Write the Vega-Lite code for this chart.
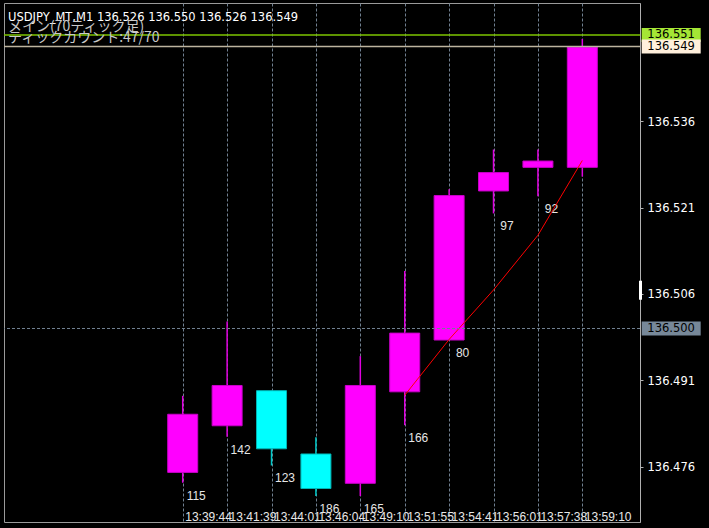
{
  "$schema": "https://vega.github.io/schema/vega-lite/v6.json",
  "width": 636,
  "height": 519,
  "autosize": {"type": "none"},
  "padding": {"left": 4, "top": 3, "right": 69, "bottom": 6},
  "background": "#000000",
  "config": {"view": {"stroke": "#9a9a9a", "strokeWidth": 1}},
  "title": {
    "text": "USDJPY_MT,M1  136.526 136.550 136.526 136.549",
    "subtitle": ["メイン(70ティック足)", "ティックカウント:47/70"],
    "anchor": "start",
    "frame": "group",
    "orient": "top",
    "offset": -42,
    "font": "DejaVu Sans",
    "fontSize": 11.5,
    "fontWeight": "normal",
    "color": "#ffffff",
    "subtitleFont": "Noto Sans CJK JP",
    "subtitleFontSize": 14,
    "subtitleColor": "#c8c8c8",
    "subtitleLineHeight": 11,
    "subtitlePadding": -3,
    "dx": 4
  },
  "resolve": {"scale": {"stroke": "independent", "fill": "independent"}},
  "datasets": {
    "bars": [
      {"i": 0, "time": "13:39:44", "open": 136.4750, "high": 136.4883, "low": 136.4732, "close": 136.4851, "dir": "up", "secs": "115"},
      {"i": 1, "time": "13:41:39", "open": 136.4831, "high": 136.5012, "low": 136.4812, "close": 136.4901, "dir": "up", "secs": "142"},
      {"i": 2, "time": "13:44:01", "open": 136.4892, "high": 136.4892, "low": 136.4762, "close": 136.4791, "dir": "down", "secs": "123"},
      {"i": 3, "time": "13:46:04", "open": 136.4782, "high": 136.4811, "low": 136.4709, "close": 136.4722, "dir": "down", "secs": "186"},
      {"i": 4, "time": "13:49:10", "open": 136.4731, "high": 136.4952, "low": 136.4709, "close": 136.4901, "dir": "up", "secs": "165"},
      {"i": 5, "time": "13:51:55", "open": 136.4890, "high": 136.5100, "low": 136.4832, "close": 136.4992, "dir": "up", "secs": "166", "ma": 136.4884},
      {"i": 6, "time": "13:54:41", "open": 136.4980, "high": 136.5242, "low": 136.4980, "close": 136.5231, "dir": "up", "secs": "80", "ma": 136.4981},
      {"i": 7, "time": "13:56:01", "open": 136.5239, "high": 136.5311, "low": 136.5200, "close": 136.5271, "dir": "up", "secs": "97", "ma": 136.5067},
      {"i": 8, "time": "13:57:38", "open": 136.5280, "high": 136.5311, "low": 136.5230, "close": 136.5291, "dir": "up", "secs": "92", "ma": 136.5162},
      {"i": 9, "time": "13:59:10", "open": 136.5280, "high": 136.5503, "low": 136.5264, "close": 136.5489, "dir": "up", "ma": 136.5292}
    ],
    "levels": [
      {"price": 136.500, "level": "ref"},
      {"price": 136.551, "level": "high"},
      {"price": 136.549, "level": "last"}
    ],
    "marker": [
      {"lo": 136.5050, "hi": 136.5083}
    ]
  },
  "layer": [
    {
      "data": {"name": "bars"},
      "mark": {"type": "rule", "strokeWidth": 1.5},
      "encoding": {
        "x": {
          "field": "i", "type": "quantitative",
          "scale": {"domain": [-4.025, 10.299], "nice": false, "zero": false, "padding": 0},
          "axis": {
            "title": null,
            "values": [0, 1, 2, 3, 4, 5, 6, 7, 8, 9],
            "labelExpr": "datum.value == 0 ? '13:39:44' : datum.value == 1 ? '13:41:39' : datum.value == 2 ? '13:44:01' : datum.value == 3 ? '13:46:04' : datum.value == 4 ? '13:49:10' : datum.value == 5 ? '13:51:55' : datum.value == 6 ? '13:54:41' : datum.value == 7 ? '13:56:01' : datum.value == 8 ? '13:57:38' : '13:59:10'",
            "labelAlign": "left",
            "labelBaseline": "alphabetic",
            "labelPadding": -2,
            "labelOffset": 2,
            "ticks": false,
            "domain": false,
            "grid": true,
            "gridColor": "#708090",
            "gridDash": [3, 2],
            "gridWidth": 1,
            "labelOverlap": false,
            "labelFlush": false,
            "labelFont": "Liberation Sans",
            "labelFontSize": 12,
            "labelColor": "#e8e8e8"
          }
        },
        "y": {
          "field": "low", "type": "quantitative",
          "scale": {"domain": [136.46638, 136.55656], "nice": false, "zero": false, "padding": 0},
          "axis": {
            "orient": "right",
            "title": null,
            "values": [136.476, 136.491, 136.506, 136.521, 136.536],
            "format": ".3f",
            "labelFont": "DejaVu Sans",
            "labelFontSize": 11.5,
            "labelColor": "#ffffff",
            "labelPadding": 4,
            "labelOffset": 1,
            "tickSize": 3,
            "tickColor": "#b0b0b0",
            "domainColor": "#b0b0b0",
            "grid": false
          }
        },
        "y2": {"field": "high"},
        "stroke": {"field": "dir", "type": "nominal", "scale": {"domain": ["up", "down"], "range": ["#e000e0", "#00c8c8"]}, "legend": null}
      }
    },
    {
      "data": {"name": "bars"},
      "mark": {"type": "bar", "width": 30, "orient": "vertical", "strokeWidth": 1},
      "encoding": {
        "x": {"field": "i", "type": "quantitative"},
        "y": {"field": "open", "type": "quantitative"},
        "y2": {"field": "close"},
        "fill": {"field": "dir", "type": "nominal", "scale": {"domain": ["up", "down"], "range": ["#ff00ff", "#00ffff"]}, "legend": null},
        "stroke": {"field": "dir", "type": "nominal", "scale": {"domain": ["up", "down"], "range": ["#c800c8", "#00b4b4"]}, "legend": null}
      }
    },
    {
      "data": {"name": "bars"},
      "transform": [{"filter": "isValid(datum.secs)"}],
      "mark": {"type": "text", "align": "center", "baseline": "top", "dx": 13.5, "dy": 8, "font": "Liberation Sans", "fontSize": 12, "color": "#e6e6e6"},
      "encoding": {
        "x": {"field": "i", "type": "quantitative"},
        "y": {"field": "low", "type": "quantitative"},
        "text": {"field": "secs"}
      }
    },
    {
      "data": {"name": "bars"},
      "transform": [{"filter": "isValid(datum.ma)"}],
      "mark": {"type": "line", "color": "#ff0000", "strokeWidth": 1},
      "encoding": {
        "x": {"field": "i", "type": "quantitative"},
        "y": {"field": "ma", "type": "quantitative"}
      }
    },
    {
      "data": {"name": "levels"},
      "transform": [{"filter": "datum.level == 'ref'"}],
      "mark": {"type": "rule", "strokeWidth": 1, "strokeDash": [3, 2], "color": "#708090"},
      "encoding": {
        "y": {"field": "price", "type": "quantitative"}
      }
    },
    {
      "data": {"name": "levels"},
      "transform": [{"filter": "datum.level != 'ref'"}],
      "mark": {"type": "rule", "strokeWidth": 1.5},
      "encoding": {
        "y": {"field": "price", "type": "quantitative"},
        "stroke": {"field": "level", "type": "nominal", "scale": {"domain": ["high", "last"], "range": ["#7cc400", "#bdb49f"]}, "legend": null}
      }
    },
    {
      "data": {"name": "levels"},
      "mark": {"type": "bar", "height": 14, "orient": "horizontal"},
      "encoding": {
        "x": {"datum": 10.337},
        "x2": {"datum": 11.666},
        "y": {"field": "price", "type": "quantitative"},
        "fill": {"field": "level", "type": "nominal", "scale": {"domain": ["high", "last", "ref"], "range": ["#a5e635", "#fff0dc", "#778899"]}, "legend": null}
      }
    },
    {
      "data": {"name": "levels"},
      "mark": {"type": "text", "align": "center", "baseline": "middle", "font": "DejaVu Sans", "fontSize": 11.5, "color": "#000000"},
      "encoding": {
        "x": {"datum": 11.0},
        "y": {"field": "price", "type": "quantitative"},
        "text": {"field": "price", "type": "quantitative", "format": ".3f"}
      }
    },
    {
      "data": {"name": "marker"},
      "mark": {"type": "rule", "strokeWidth": 3, "color": "#ffffff"},
      "encoding": {
        "x": {"datum": 10.31},
        "y": {"field": "lo", "type": "quantitative"},
        "y2": {"field": "hi"}
      }
    }
  ]
}
